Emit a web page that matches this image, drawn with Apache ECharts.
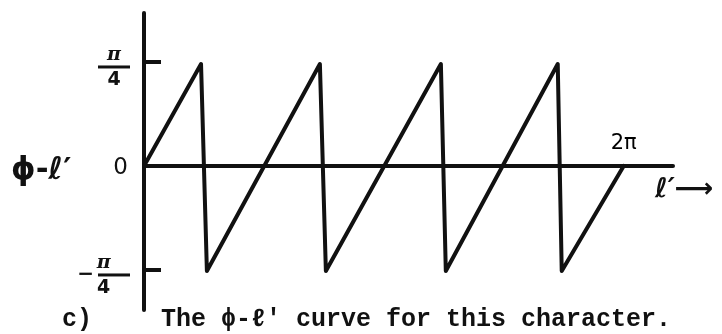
<!DOCTYPE html>
<html>
<head>
<meta charset="utf-8">
<script src="https://cdn.jsdelivr.net/npm/echarts@6/dist/echarts.min.js"></script>
<style>
  html, body { margin: 0; padding: 0; background: #fff; }
  #chart { width: 722px; height: 334px; }
</style>
</head>
<body>
<div id="chart"></div>
<script>
// l' in degrees (2pi = 360), phi - l' in units of pi/4
const ellX = [0, 42.8, 47.2, 132, 136.5, 222.8, 226.5, 310.5, 313.5, 360];
const phiY = [0, 0.98, -1.01, 0.98, -1.01, 0.98, -1.01, 0.98, -1.01, 0];

const yTickValues = [-1, 0, 1];
const yTickLabels = ['-π/4', '0', 'π/4'];
const xTickValues = [360];
const xTickLabels = ['2π'];

const ink = '#111';
const chart = echarts.init(document.getElementById('chart'));

function yLabel(value) {
    const idx = yTickValues.indexOf(value);
    if (idx < 0) return '';
    const txt = yTickLabels[idx];
    if (txt.indexOf('/') < 0) return '{z|' + txt + '}';
    const neg = txt.charAt(0) === '-';
    const parts = txt.replace('-', '').split('/');
    return '{n|' + parts[0] + '}\n' + (neg ? '{m|−}' : '') + '{bar|}\n{d|' + parts[1] + '}';
}

const option = {
    animation: false,
    title: [
        {
            text: 'c)', left: 57, top: 302,
            textStyle: { fontFamily: 'Liberation Mono', fontWeight: 'bold', fontSize: 25, color: ink }
        },
        {
            text: 'The ϕ-ℓ\' curve for this character.', left: 156, top: 302,
            textStyle: { fontFamily: 'Liberation Mono', fontWeight: 'bold', fontSize: 25, color: ink }
        }
    ],
    grid: { left: 144, right: 49, top: 13, bottom: 24 },
    xAxis: {
        type: 'value',
        min: 0,
        max: 397,
        splitLine: { show: false },
        axisLine: { onZero: true, lineStyle: { color: ink, width: 4 } },
        axisTick: { show: false },
        axisLabel: { show: false },
        name: 'ℓ′⟶',
        nameLocation: 'end',
        nameGap: -18,
        nameTextStyle: {
            fontFamily: 'DejaVu Sans', fontSize: 27, fontStyle: 'italic', fontWeight: 'bold', color: ink,
            verticalAlign: 'top', padding: [11, 0, 0, 0]
        }
    },
    yAxis: {
        type: 'value',
        min: -1.385,
        max: 1.471,
        splitLine: { show: false },
        axisLine: { onZero: false, lineStyle: { color: ink, width: 4 } },
        axisTick: {
            show: true, inside: true, length: 17,
            customValues: [-1, 1],
            lineStyle: { color: ink, width: 4 }
        },
        axisLabel: {
            margin: 14,
            customValues: yTickValues,
            formatter: yLabel,
            color: ink,
            padding: [12, 0, 0, 0],
            rich: {
                z: { fontFamily: 'DejaVu Sans', fontSize: 23, color: ink, padding: [0, 2, 8, 0] },
                n: { fontFamily: 'DejaVu Serif', fontSize: 19, fontStyle: 'italic', fontWeight: 'bold', color: ink, width: 32, align: 'center', lineHeight: 18 },
                d: { fontFamily: 'DejaVu Sans', fontSize: 19, fontWeight: 'bold', color: ink, width: 32, align: 'center', lineHeight: 20 },
                bar: { width: 32, height: 3, lineHeight: 6, backgroundColor: ink },
                m: { fontFamily: 'DejaVu Sans', fontSize: 20, fontWeight: 'bold', color: ink, padding: [0, 4, 0, 0], lineHeight: 6 }
            }
        },
        name: 'ϕ-ℓ′',
        nameLocation: 'middle',
        nameRotate: 0,
        nameGap: 70,
        nameTextStyle: {
            fontFamily: 'DejaVu Sans', fontSize: 31, fontWeight: 'bold', color: ink, align: 'right',
            verticalAlign: 'top', lineHeight: 18
        }
    },
    series: [
        {
            type: 'line',
            data: ellX.map(function (x, i) { return [x, phiY[i]]; }),
            symbol: 'none',
            clip: false,
            lineStyle: { color: ink, width: 4, join: 'round', cap: 'round' }
        },
        {
            // 2pi tick label, placed on the l' axis through the scales
            type: 'scatter',
            data: xTickValues.map(function (x) { return [x, 0]; }),
            symbolSize: 0,
            silent: true,
            itemStyle: { color: '#000', opacity: 1 },
            label: {
                show: true,
                position: 'top',
                distance: 12,
                formatter: function (p) { return xTickLabels[xTickValues.indexOf(p.value[0])]; },
                fontFamily: 'DejaVu Sans', fontSize: 21, color: '#000', opacity: 1
            }
        }
    ]
};

chart.setOption(option);
</script>
</body>
</html>
